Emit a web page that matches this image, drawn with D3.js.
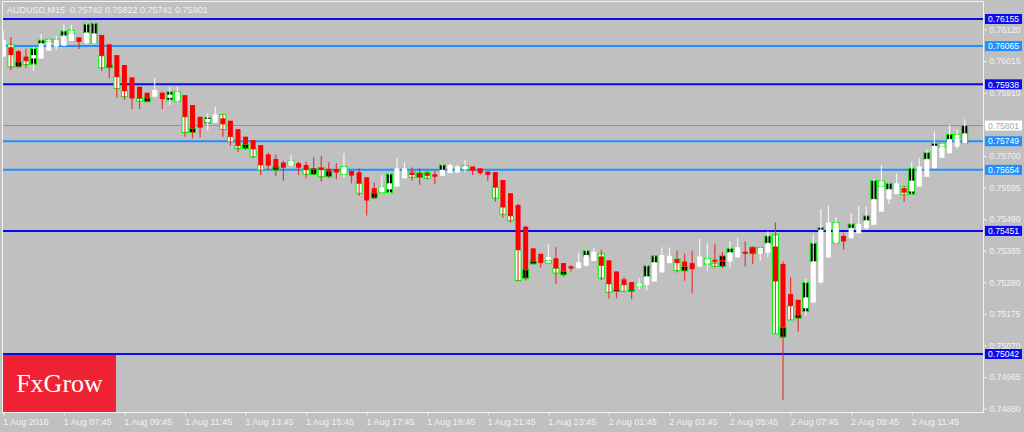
<!DOCTYPE html>
<html><head><meta charset="utf-8">
<script src="https://cdn.jsdelivr.net/npm/d3@7"></script>
<style>html,body{margin:0;padding:0;background:#c0c0c0;overflow:hidden}svg{display:block}</style>
</head><body>
<svg id="chart" width="1024" height="432"></svg>
<script>
// ---- data (AUDUSD M15, 128 bars from 1 Aug 2016 05:45) ----
const open = [0.76030,0.76061,0.76048,0.76030,0.76024,0.76024,0.76050,0.76063,0.76066,0.76082,0.76094,0.76075,0.76074,0.76102,0.76071,0.76035,0.76002,0.75961,0.75930,0.75910,
0.75897,0.75910,0.75893,0.75893,0.75902,0.75869,0.75830,0.75811,0.75811,0.75825,0.75817,0.75789,0.75764,0.75753,0.75736,0.75705,0.75690,0.75678,0.75668,0.75676,
0.75670,0.75659,0.75661,0.75657,0.75656,0.75648,0.75650,0.75646,0.75629,0.75593,0.75582,0.75589,0.75598,0.75626,0.75645,0.75643,0.75643,0.75639,0.75634,0.75643,
0.75645,0.75656,0.75665,0.75659,0.75648,0.75646,0.75620,0.75576,0.75537,0.75465,0.75393,0.75375,0.75355,0.75360,0.75344,0.75333,0.75327,0.75335,0.75351,0.75366,
0.75353,0.75316,0.75290,0.75281,0.75266,0.75272,0.75283,0.75313,0.75344,0.75357,0.75349,0.75344,0.75333,0.75344,0.75355,0.75355,0.75349,0.75363,0.75382,0.75396,
0.75375,0.75379,0.75399,0.75341,0.75241,0.75222,0.75194,0.75213,0.75279,0.75363,0.75421,0.75434,0.75427,0.75443,0.75460,0.75471,0.75515,0.75556,0.75573,0.75593,
0.75582,0.75598,0.75631,0.75659,0.75694,0.75709,0.75731,0.75742];
const high = [0.76115,0.76095,0.76052,0.76057,0.76063,0.76105,0.76088,0.76099,0.76137,0.76135,0.76094,0.76140,0.76144,0.76102,0.76071,0.76035,0.76002,0.75961,0.75930,0.75910,
0.75958,0.75913,0.75930,0.75930,0.75902,0.75869,0.75830,0.75841,0.75864,0.75838,0.75817,0.75789,0.75764,0.75753,0.75736,0.75711,0.75705,0.75684,0.75703,0.75681,
0.75681,0.75696,0.75699,0.75679,0.75676,0.75709,0.75650,0.75659,0.75629,0.75612,0.75637,0.75643,0.75692,0.75679,0.75662,0.75659,0.75650,0.75650,0.75672,0.75674,
0.75672,0.75687,0.75665,0.75659,0.75648,0.75646,0.75620,0.75576,0.75541,0.75468,0.75393,0.75375,0.75407,0.75397,0.75344,0.75338,0.75379,0.75388,0.75393,0.75388,
0.75353,0.75316,0.75297,0.75281,0.75294,0.75338,0.75368,0.75397,0.75397,0.75385,0.75375,0.75385,0.75424,0.75410,0.75408,0.75382,0.75416,0.75427,0.75416,0.75399,
0.75397,0.75449,0.75479,0.75349,0.75297,0.75222,0.75292,0.75438,0.75523,0.75534,0.75496,0.75443,0.75510,0.75534,0.75532,0.75623,0.75670,0.75611,0.75642,0.75600,
0.75681,0.75692,0.75722,0.75781,0.75742,0.75803,0.75789,0.75822];
const low = [0.76029,0.75985,0.75993,0.75993,0.75982,0.76024,0.76050,0.76052,0.76066,0.76082,0.76055,0.76071,0.76071,0.75982,0.75958,0.75893,0.75886,0.75856,0.75856,0.75878,
0.75897,0.75856,0.75869,0.75878,0.75764,0.75758,0.75761,0.75784,0.75811,0.75764,0.75734,0.75712,0.75720,0.75694,0.75637,0.75653,0.75634,0.75618,0.75664,0.75637,
0.75626,0.75637,0.75614,0.75626,0.75623,0.75626,0.75609,0.75567,0.75502,0.75557,0.75578,0.75576,0.75598,0.75626,0.75618,0.75604,0.75623,0.75607,0.75634,0.75643,
0.75645,0.75645,0.75637,0.75637,0.75618,0.75548,0.75495,0.75479,0.75283,0.75286,0.75340,0.75329,0.75344,0.75275,0.75299,0.75316,0.75327,0.75335,0.75351,0.75288,
0.75227,0.75227,0.75250,0.75224,0.75257,0.75253,0.75283,0.75313,0.75344,0.75313,0.75285,0.75244,0.75329,0.75319,0.75330,0.75327,0.75330,0.75363,0.75333,0.75341,
0.75352,0.75363,0.75109,0.74890,0.75155,0.75117,0.75169,0.75213,0.75279,0.75363,0.75408,0.75388,0.75423,0.75443,0.75454,0.75471,0.75515,0.75541,0.75573,0.75548,
0.75573,0.75598,0.75631,0.75659,0.75694,0.75709,0.75725,0.75741];
const close = [0.76085,0.76035,0.76013,0.76016,0.76035,0.76074,0.76079,0.76077,0.76099,0.76107,0.76079,0.76109,0.76107,0.76033,0.75996,0.75963,0.75916,0.75891,0.75891,0.75891,
0.75919,0.75889,0.75904,0.75904,0.75830,0.75792,0.75794,0.75823,0.75838,0.75805,0.75764,0.75734,0.75738,0.75723,0.75670,0.75668,0.75659,0.75661,0.75683,0.75661,
0.75653,0.75653,0.75653,0.75650,0.75645,0.75659,0.75635,0.75609,0.75552,0.75574,0.75596,0.75609,0.75659,0.75659,0.75637,0.75631,0.75634,0.75631,0.75654,0.75670,
0.75665,0.75665,0.75651,0.75643,0.75637,0.75596,0.75530,0.75501,0.75388,0.75322,0.75351,0.75344,0.75364,0.75327,0.75316,0.75326,0.75347,0.75371,0.75382,0.75335,
0.75275,0.75257,0.75272,0.75255,0.75277,0.75299,0.75346,0.75371,0.75368,0.75344,0.75333,0.75324,0.75366,0.75357,0.75349,0.75348,0.75379,0.75397,0.75375,0.75377,
0.75382,0.75410,0.75283,0.75131,0.75202,0.75172,0.75230,0.75349,0.75454,0.75479,0.75471,0.75416,0.75460,0.75474,0.75485,0.75556,0.75598,0.75589,0.75609,0.75578,
0.75618,0.75665,0.75689,0.75733,0.75731,0.75755,0.75759,0.75775];
// second (overlaid, lime-outlined) candle bodies
const open2 = [null,0.76071,0.75996,0.76016,0.76005,0.76072,0.76088,0.76088,0.76099,0.76118,null,0.76109,0.76074,0.76033,0.75993,0.75963,0.75916,null,0.75891,0.75880,
null,null,0.75886,0.75913,0.75830,0.75778,null,0.75808,null,0.75838,0.75764,0.75734,0.75725,0.75723,0.75670,null,0.75653,null,0.75683,null,
0.75659,0.75639,0.75661,0.75631,null,0.75665,null,0.75609,null,0.75560,0.75596,0.75578,null,null,0.75648,0.75629,0.75645,null,0.75651,null,
null,0.75668,null,null,null,0.75596,0.75530,0.75501,0.75388,0.75294,0.75341,null,0.75353,0.75327,0.75305,null,null,0.75366,null,0.75375,
0.75275,0.75250,0.75272,0.75250,0.75277,0.75299,0.75346,null,null,0.75357,0.75318,null,null,0.75360,0.75344,0.75333,0.75379,null,null,0.75375,
0.75396,0.75410,0.75438,0.75098,0.75202,0.75161,0.75183,0.75349,0.75454,null,0.75479,null,0.75460,null,0.75485,0.75556,0.75617,0.75589,null,0.75598,
0.75573,null,0.75689,0.75733,0.75742,0.75755,0.75772,0.75742];
const close2 = [null,0.75996,0.76013,0.76004,0.76057,0.76085,0.76079,0.76074,0.76115,0.76107,null,0.76138,0.76141,0.75993,0.76002,0.75924,0.75897,null,0.75882,0.75893,
null,null,0.75913,0.75882,0.75778,0.75792,null,0.75827,null,0.75788,0.75747,0.75725,0.75738,0.75697,0.75653,null,0.75664,null,0.75668,null,
0.75639,0.75657,0.75631,0.75650,null,0.75639,null,0.75576,null,0.75576,0.75578,0.75640,null,null,0.75629,0.75643,0.75626,null,0.75670,null,
null,0.75656,null,null,null,0.75560,0.75506,0.75485,0.75286,0.75322,0.75351,null,0.75344,0.75311,0.75316,null,null,0.75385,null,0.75294,
0.75247,0.75257,0.75250,0.75255,0.75266,0.75335,0.75368,null,null,0.75319,0.75333,null,null,0.75341,0.75333,0.75368,0.75393,null,null,0.75397,
0.75377,0.75434,0.75109,0.75131,0.75155,0.75172,0.75279,0.75410,0.75462,null,0.75410,null,0.75474,null,0.75501,0.75618,0.75598,0.75609,null,0.75571,
0.75659,null,0.75711,0.75742,0.75731,0.75772,0.75759,0.75801];

const levels = [0.76155, 0.76065, 0.75938, 0.75749, 0.75654, 0.75451, 0.75042];
const levelKinds = ["major","minor","major","minor","minor","major","major"];
const bid = 0.75801;
const header = "AUDUSD,M15  0.75742 0.75822 0.75741 0.75801";
const yTicks = [0.74860,0.74965,0.75070,0.75175,0.75280,0.75385,0.75490,0.75595,0.75700,0.75805,0.75910,0.76015,0.76120];
const xTickIndex = [0,8,16,24,32,40,48,56,64,72,80,88,96,104,112,120];
const xTickLabels = ["1 Aug 2016","1 Aug 07:45","1 Aug 09:45","1 Aug 11:45","1 Aug 13:45","1 Aug 15:45","1 Aug 17:45","1 Aug 19:45",
  "1 Aug 21:45","1 Aug 23:45","2 Aug 01:45","2 Aug 03:45","2 Aug 05:45","2 Aug 07:45","2 Aug 09:45","2 Aug 11:45"];
const brand = "FxGrow";

// ---- layout ----
const L = 2.5, R = 983.5, T = 1.5, B = 412.5;
const FG = "#f2f2f2";
const svg = d3.select("#chart");
svg.append("rect").attr("width",1024).attr("height",432).attr("fill","#c0c0c0");

const x = d3.scaleLinear().domain([0, open.length - 1]).range([3.3, 964.7]);
const y = d3.scaleLinear().domain([0.75042, 0.76155]).range([354, 19]);

const bars = open.map((o,i)=>({i,o,h:high[i],l:low[i],c:close[i],o2:open2[i],c2:close2[i]}));

const plot = svg.append("g");
plot.append("defs").append("clipPath").attr("id","clip")
  .append("rect").attr("x",L).attr("y",T).attr("width",R-L).attr("height",B-T);
const g = plot.append("g").attr("clip-path","url(#clip)");

// header
svg.append("text").attr("x",7).attr("y",13).attr("font-family","Liberation Sans, Arial, sans-serif")
  .attr("font-size",9).attr("fill",FG).attr("xml:space","preserve").style("white-space","pre").text(header);

// level lines
g.selectAll("line.level").data(levels).join("line").attr("class","level")
  .attr("x1",L).attr("x2",R).attr("y1",d=>y(d)).attr("y2",d=>y(d))
  .attr("stroke",(d,i)=>levelKinds[i]==="major"?"#0a0aee":"#1e90ff").attr("stroke-width",2);
// bid line
g.append("line").attr("x1",L).attr("x2",R).attr("y1",y(bid)).attr("y2",y(bid))
  .attr("stroke","#8494a4").attr("stroke-width",1);

// overlay bodies (lime outline)
g.selectAll("rect.b2").data(bars.filter(d=>d.o2!=null)).join("rect").attr("class","b2")
  .attr("x",d=>x(d.i)-3).attr("width",6)
  .attr("y",d=>y(Math.max(d.o2,d.c2)))
  .attr("height",d=>Math.max(1,Math.abs(y(d.o2)-y(d.c2))))
  .attr("fill",d=>d.c2>d.o2?"#000000":"#ffffff")
  .attr("stroke","#00f000").attr("stroke-width",1);

// wicks
g.selectAll("line.wick").data(bars).join("line").attr("class","wick")
  .attr("x1",d=>x(d.i)).attr("x2",d=>x(d.i))
  .attr("y1",d=>y(d.h)).attr("y2",d=>y(d.l))
  .attr("stroke",d=>d.c>=d.o?"#ffffff":"#ee1c1c").attr("stroke-width",1.2).attr("stroke-opacity",0.85);
// bodies
g.selectAll("rect.body").data(bars).join("rect").attr("class","body")
  .attr("x",d=>x(d.i)-2.5).attr("width",5)
  .attr("y",d=>y(Math.max(d.o,d.c)))
  .attr("height",d=>Math.max(1.5,Math.abs(y(d.o)-y(d.c))))
  .attr("fill",d=>d.c>=d.o?"#ffffff":"#ff0000");

// frame
svg.append("path").attr("d",`M${L},${B}V${T}H${R}V${B}H${L}`).attr("fill","none").attr("stroke",FG).attr("stroke-width",1);

// y axis
const ya = svg.append("g").attr("transform",`translate(${R},0)`)
  .call(d3.axisRight(y).tickValues(yTicks).tickFormat(d3.format(".5f")).tickSize(3).tickPadding(3));
ya.select(".domain").remove();
ya.selectAll("line").attr("stroke",FG);
ya.selectAll("text").attr("fill",FG).attr("font-size",8.6).attr("font-family","Liberation Sans, Arial, sans-serif");

// x axis
const xa = svg.append("g").attr("transform",`translate(0,${B})`)
  .call(d3.axisBottom(x).tickValues(xTickIndex).tickFormat((d,i)=>xTickLabels[i]).tickSize(3).tickPadding(3));
xa.select(".domain").remove();
xa.selectAll("line").attr("stroke",FG);
xa.selectAll("text").attr("fill",FG).attr("font-size",9).attr("text-anchor","start").attr("dx",-0.6)
  .attr("font-family","Liberation Sans, Arial, sans-serif");

// right price labels
const lab = svg.append("g");
const allLabels = levels.map((v,i)=>({v,kind:levelKinds[i]})).concat([{v:bid,kind:"bid"}]);
const lg = lab.selectAll("g").data(allLabels).join("g").attr("transform",d=>`translate(985,${y(d.v)})`);
lg.append("rect").attr("x",0).attr("y",-5).attr("width",37).attr("height",10)
  .attr("fill",d=>d.kind==="major"?"#0a0aee":d.kind==="minor"?"#1e90ff":"#ffffff");
lg.append("text").attr("x",3).attr("y",3.2).attr("font-size",8.6).attr("font-family","Liberation Sans, Arial, sans-serif")
  .attr("fill",d=>d.kind==="bid"?"#a8a8a8":"#ffffff").text(d=>d3.format(".5f")(d.v));

// brand box
svg.append("rect").attr("x",3).attr("y",355).attr("width",113).attr("height",57).attr("fill","#ee2233");
svg.append("text").attr("x",59.5).attr("y",392).attr("text-anchor","middle")
  .attr("font-family","Liberation Serif, Times New Roman, serif").attr("font-size",26).attr("fill","#ffffff").text(brand);
</script>
</body></html>
